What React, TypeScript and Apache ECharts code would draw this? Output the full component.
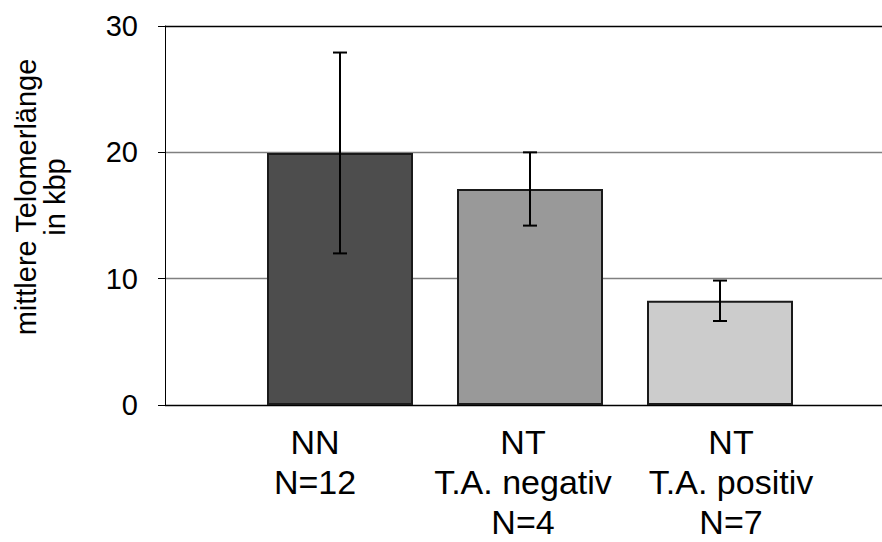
import React, { useEffect, useRef } from "react";
import * as echarts from "echarts";

const categories = ["NN\nN=12", "NT\nT.A. negativ\nN=4", "NT\nT.A. positiv\nN=7"];
const means = [19.95, 17.1, 8.25];
const errors = [7.95, 2.9, 1.6];
const barColors = ["#4d4d4d", "#999999", "#cccccc"];
const yTicks = { min: 0, max: 30, interval: 10 };
const yTitle = "mittlere Telomerlänge\nin kbp";

const FONT = "'Liberation Sans', Arial, sans-serif";

export default function App() {
  const ref = useRef<HTMLDivElement>(null);
  useEffect(() => {
    document.body.style.margin = "0";
    const chart = echarts.init(ref.current!, null, { renderer: "svg" });
    const errData = means.map((m, i) => [i, m - errors[i], m + errors[i]]);
    chart.setOption({
      animation: false,
      backgroundColor: "#ffffff",
      textStyle: { fontFamily: FONT },
      grid: [
        { left: 165, right: 0, top: 26, bottom: 137 },
        { left: 245, width: 570, top: 26, bottom: 137 },
        { left: 211, width: 624, top: 26, bottom: 137 },
      ],
      xAxis: [
        { type: "value", gridIndex: 0, show: false, min: 0, max: 1 },
        {
          type: "category",
          gridIndex: 1,
          data: categories,
          axisLine: { show: false },
          axisTick: { show: false },
          axisLabel: { show: false },
        },
        {
          type: "category",
          gridIndex: 2,
          data: categories,
          axisLine: { show: false },
          axisTick: { show: false },
          axisLabel: {
            interval: 0,
            hideOverlap: false,
            fontSize: 34,
            lineHeight: 40,
            color: "#000",
            fontFamily: FONT,
            margin: 20,
            align: "center",
          },
        },
      ],
      yAxis: [
        {
          type: "value",
          gridIndex: 0,
          min: yTicks.min,
          max: yTicks.max,
          interval: yTicks.interval,
          offset: 8,
          axisLine: { show: true, lineStyle: { color: "#000", width: 1 } },
          axisTick: { show: true, length: 7, lineStyle: { color: "#000", width: 1 } },
          axisLabel: { fontSize: 29, color: "#000", fontFamily: FONT, margin: 19 },
          splitLine: {
            show: true,
            lineStyle: { color: ["#000", "#808080", "#808080", "#000"], width: 1.3 },
          },
        },
        {
          type: "value",
          gridIndex: 1,
          min: yTicks.min,
          max: yTicks.max,
          interval: yTicks.interval,
          show: false,
        },
        {
          type: "value",
          gridIndex: 2,
          min: yTicks.min,
          max: yTicks.max,
          interval: yTicks.interval,
          show: false,
        },
      ],
      graphic: [
        {
          type: "text",
          x: 40,
          y: 197,
          rotation: Math.PI / 2,
          style: {
            text: yTitle,
            font: `29px ${FONT}`,
            fill: "#000",
            align: "center",
            verticalAlign: "middle",
            lineHeight: 29,
          },
        },
      ],
      series: [
        {
          type: "bar",
          xAxisIndex: 1,
          yAxisIndex: 1,
          barWidth: 146,
          data: means.map((v, i) => ({
            value: v,
            itemStyle: { color: barColors[i], borderColor: "#1a1a1a", borderWidth: 2 },
          })),
        },
        {
          type: "custom",
          xAxisIndex: 1,
          yAxisIndex: 1,
          data: errData,
          z: 5,
          renderItem: (params: any, api: any) => {
            const x = api.value(0);
            const lo = api.coord([x, api.value(1)]);
            const hi = api.coord([x, api.value(2)]);
            const cx = Math.round(lo[0]);
            const half = 7;
            const style = { stroke: "#000", lineWidth: 2 };
            return {
              type: "group",
              children: [
                { type: "line", shape: { x1: cx, y1: hi[1], x2: cx, y2: lo[1] }, style },
                { type: "line", shape: { x1: cx - half, y1: hi[1], x2: cx + half, y2: hi[1] }, style },
                { type: "line", shape: { x1: cx - half, y1: lo[1], x2: cx + half, y2: lo[1] }, style },
              ],
            };
          },
        },
      ],
    });
    return () => chart.dispose();
  }, []);
  return <div ref={ref} style={{ width: 882, height: 542, position: "absolute", left: 0, top: 0 }} />;
}
